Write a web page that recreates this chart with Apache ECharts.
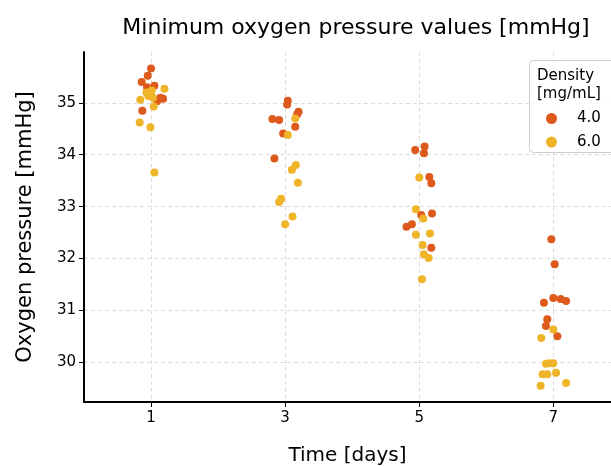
<!DOCTYPE html>
<html>
<head>
<meta charset="utf-8">
<script src="https://cdn.jsdelivr.net/npm/echarts@6/dist/echarts.min.js"></script>
<style>html,body{margin:0;padding:0;background:#fff}#c{width:611px;height:466px}</style>
</head>
<body>
<div id="c"></div>
<script>
var titleText = 'Minimum oxygen pressure values [mmHg]';
var xName = 'Time [days]';
var yName = 'Oxygen pressure [mmHg]';
var xTicks = [1, 3, 5, 7];
var yTicks = [30, 31, 32, 33, 34, 35];
var groupNames = ['4.0', '6.0'];
var legendTitle = 'Density\n[mg/mL]';

// density 4.0 : [time (jittered), pressure]
var dens4 = [
  [1.00, 35.66], [0.95, 35.52], [0.86, 35.40], [1.05, 35.33], [0.94, 35.30],
  [1.14, 35.10], [1.18, 35.08], [1.09, 35.03], [0.87, 34.85],
  [3.04, 35.04], [3.03, 34.97], [3.20, 34.83], [3.18, 34.78], [2.81, 34.69],
  [2.91, 34.67], [3.15, 34.54], [2.97, 34.41], [2.84, 33.93],
  [5.08, 34.16], [4.94, 34.09], [5.07, 34.03], [5.15, 33.57], [5.18, 33.45],
  [5.19, 32.87], [5.03, 32.84], [4.89, 32.66], [4.81, 32.61], [5.18, 32.21],
  [6.97, 32.37], [7.02, 31.89], [7.00, 31.24], [7.11, 31.22], [7.19, 31.18],
  [6.86, 31.15], [6.91, 30.83], [6.89, 30.70], [7.06, 30.50]
];
// density 6.0 : [time (jittered), pressure]
var dens6 = [
  [1.20, 35.27], [0.93, 35.20], [1.01, 35.24], [1.03, 35.10], [0.96, 35.13],
  [0.99, 35.17], [0.84, 35.06], [1.04, 34.93], [0.83, 34.62], [0.99, 34.53], [1.05, 33.66],
  [3.15, 34.70], [3.04, 34.38], [3.16, 33.80], [3.10, 33.71], [3.19, 33.46],
  [2.94, 33.15], [2.91, 33.09], [3.11, 32.81], [3.00, 32.66],
  [5.00, 33.56], [4.95, 32.95], [5.06, 32.77], [5.16, 32.48], [4.95, 32.46],
  [5.05, 32.26], [5.07, 32.08], [5.14, 32.01], [5.04, 31.60],
  [7.00, 30.63], [6.82, 30.47], [6.89, 29.97], [6.94, 29.98], [7.00, 29.98],
  [6.84, 29.77], [6.91, 29.77], [7.04, 29.80], [6.81, 29.55], [7.19, 29.60]
];

var colors = ['#DD5A1C', '#F0B428'];
var font = 'DejaVu Sans';
var grid = { color: '#d4d4d4', width: 0.8, type: [4, 3] };

var chart = echarts.init(document.getElementById('c'), null, { renderer: 'canvas' });
chart.setOption({
  animation: false,
  backgroundColor: '#fff',
  title: {
    text: titleText, left: 351, top: 12, textAlign: 'center',
    textStyle: { fontFamily: font, fontSize: 22, fontWeight: 'normal', color: '#000' }
  },
  grid: { left: 84, top: 52, bottom: 64, right: 0, containLabel: false, outerBoundsMode: 'none' },
  xAxis: {
    type: 'value', min: 0, max: 7.86,
    name: xName, nameLocation: 'middle', nameGap: 44,
    nameTextStyle: { fontFamily: font, fontSize: 20, color: '#000' },
    axisLine: { show: true, onZero: false, lineStyle: { color: '#000', width: 2 } },
    axisTick: { show: true, length: 5, lineStyle: { color: '#000', width: 1 }, customValues: xTicks },
    axisLabel: { customValues: xTicks, fontFamily: font, fontSize: 15, color: '#000', margin: 9 },
    splitLine: { show: true, lineStyle: grid }
  },
  yAxis: {
    type: 'value', min: 29.235, max: 35.98,
    name: yName, nameLocation: 'middle', nameGap: 48, nameRotate: 90,
    nameTextStyle: { fontFamily: font, fontSize: 21, color: '#000' },
    axisLine: { show: true, onZero: false, lineStyle: { color: '#000', width: 2 } },
    axisTick: { show: true, length: 5, lineStyle: { color: '#000', width: 1 }, customValues: yTicks },
    axisLabel: { customValues: yTicks, fontFamily: font, fontSize: 15, color: '#000', margin: 8 },
    splitLine: { show: true, lineStyle: grid }
  },
  legend: {
    orient: 'vertical', left: 541, top: 106, itemWidth: 11, itemHeight: 11, itemGap: 8.5,
    icon: 'circle', data: groupNames, z: 20,
    textStyle: { fontFamily: font, fontSize: 15, color: '#000', padding: [0, 0, 0, 15] }
  },
  graphic: [
    { type: 'rect', left: 529, top: 60, z: 1, zlevel: 0,
      shape: { width: 100, height: 92, r: 4 },
      style: { fill: 'rgba(255,255,255,0.85)', stroke: '#cccccc', lineWidth: 1 } },
    { type: 'text', left: 537, top: 67, z: 2,
      style: { text: legendTitle, fontFamily: font, fontSize: 15, fill: '#000', lineHeight: 18 } }
  ],
  series: [
    { name: groupNames[0], type: 'scatter', data: dens4, symbolSize: 8, z: 0,
      itemStyle: { color: colors[0], opacity: 1 } },
    { name: groupNames[1], type: 'scatter', data: dens6, symbolSize: 8, z: 0,
      itemStyle: { color: colors[1], opacity: 1 } }
  ]
});
</script>
</body>
</html>
